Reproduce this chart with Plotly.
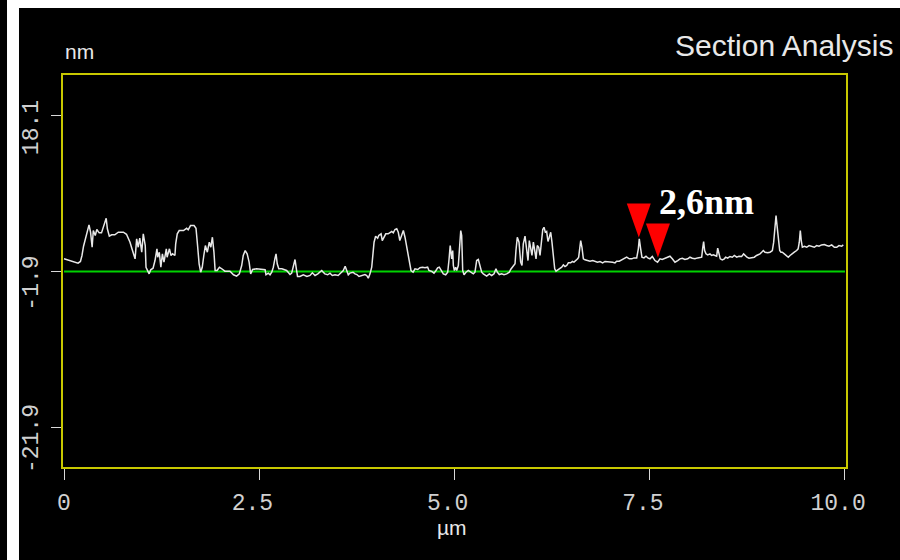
import plotly.graph_objects as go

# Section profile (µm, nm)
x_um = [0.00, 0.077, 0.141, 0.18, 0.21, 0.23, 0.25, 0.28, 0.30, 0.32, 0.34, 0.36, 0.375, 0.40, 0.42, 0.45, 0.48, 0.50,
        0.525, 0.54, 0.555, 0.58, 0.61, 0.65, 0.695, 0.76, 0.80, 0.82, 0.845, 0.87, 0.89, 0.91, 0.93, 0.95, 0.97, 0.995,
        1.015, 1.04, 1.05, 1.09, 1.11, 1.14, 1.165, 1.19, 1.20, 1.22, 1.24, 1.26, 1.28, 1.31, 1.32, 1.35, 1.37, 1.39,
        1.42, 1.43, 1.45, 1.475, 1.53, 1.57, 1.59, 1.62, 1.665, 1.69, 1.71, 1.73, 1.75, 1.77, 1.79, 1.81, 1.835, 1.86,
        1.88, 1.90, 1.92, 1.935, 1.96, 1.99, 2.02, 2.06, 2.125, 2.17, 2.21, 2.245, 2.275, 2.295, 2.32, 2.345, 2.37,
        2.39, 2.415, 2.465,
        2.575, 2.586, 2.616, 2.638, 2.66, 2.68, 2.70, 2.715, 2.73, 2.75, 2.79, 2.82, 2.85, 2.87, 2.894, 2.915, 2.936,
        2.958, 2.975, 2.99, 3.02, 3.064, 3.11, 3.15, 3.18, 3.214, 3.25, 3.28, 3.30, 3.32, 3.34, 3.376, 3.406, 3.435,
        3.47, 3.51, 3.547, 3.576, 3.60, 3.62, 3.64, 3.66, 3.70, 3.726, 3.75, 3.777, 3.81, 3.854, 3.876, 3.896, 3.918,
        3.94, 3.956, 3.97, 3.99, 4.016, 4.03, 4.06, 4.075, 4.10, 4.12, 4.15, 4.174, 4.196, 4.216, 4.238, 4.26, 4.28,
        4.30, 4.32, 4.345, 4.366, 4.39, 4.41, 4.43, 4.443, 4.47, 4.494, 4.53, 4.558, 4.59, 4.622, 4.656, 4.673, 4.71,
        4.737, 4.763, 4.784, 4.805, 4.827, 4.857, 4.887, 4.913, 4.93, 4.945, 4.964, 4.977, 4.985, 4.998,
        5.015, 5.028, 5.049, 5.062, 5.08, 5.092, 5.105, 5.122, 5.147, 5.177, 5.207, 5.241, 5.262, 5.284, 5.305, 5.318,
        5.335, 5.348, 5.369, 5.39, 5.412, 5.446, 5.476, 5.506, 5.531, 5.548, 5.574, 5.604, 5.634, 5.668, 5.702, 5.719,
        5.745, 5.775, 5.787, 5.804, 5.826, 5.847, 5.864, 5.881, 5.903, 5.924, 5.941, 5.958, 5.976, 5.992, 6.01, 6.027,
        6.044, 6.06, 6.078, 6.095, 6.112, 6.13, 6.146, 6.163, 6.18, 6.197, 6.214, 6.232, 6.248, 6.265, 6.283, 6.30,
        6.33, 6.35, 6.373, 6.394, 6.415, 6.437, 6.458, 6.488, 6.51, 6.53, 6.556, 6.577, 6.59, 6.603, 6.616, 6.632,
        6.65, 6.671, 6.70, 6.735, 6.77, 6.80, 6.83, 6.863, 6.897, 6.927, 6.957, 6.99, 7.025, 7.055, 7.076, 7.11,
        7.14, 7.17, 7.205, 7.238, 7.27, 7.298, 7.333, 7.354, 7.366, 7.384, 7.40, 7.426, 7.452, 7.48,
        7.503, 7.533, 7.567, 7.60, 7.631, 7.66, 7.695, 7.73, 7.759, 7.789, 7.823, 7.858, 7.887, 7.917, 7.951, 7.986,
        8.015, 8.045, 8.079, 8.114, 8.143, 8.165, 8.177, 8.19, 8.203, 8.22, 8.242, 8.271, 8.293, 8.314, 8.335, 8.357,
        8.37, 8.386, 8.403, 8.429, 8.455, 8.472, 8.498, 8.527, 8.557, 8.583, 8.613, 8.643, 8.677, 8.702, 8.72, 8.745,
        8.771, 8.805, 8.839, 8.868, 8.89, 8.912, 8.933, 8.954, 8.976, 9.01, 9.04, 9.07, 9.087, 9.104, 9.117, 9.13,
        9.146, 9.164, 9.18, 9.197, 9.223, 9.253, 9.274, 9.296, 9.317, 9.351, 9.381, 9.40, 9.415, 9.428, 9.44, 9.454,
        9.48, 9.51, 9.54, 9.574, 9.607, 9.637, 9.667, 9.70, 9.735, 9.765, 9.795, 9.83, 9.864, 9.894, 9.923, 9.958,
        9.978]
z_nm = [-0.27, -0.49, -0.70, -0.83, -0.61, 0.16, 1.35, 2.38, 3.37, 4.10, 3.15, 1.22, 3.37, 2.73, 3.50, 3.07, 3.07, 3.79,
        4.65, 4.95, 3.59, 2.64, 2.82, 2.82, 3.15, 3.15, 2.89, 2.51, 1.87, 1.02, 0.37, -0.27, 2.30, 1.22, 2.38, 0.58,
        2.94, 1.44, -1.35, -2.20, -1.68, -1.48, -0.49, 1.02, -0.06, 0.58, -1.35, 0.37, -0.70, 1.02, -0.06, 1.02, 0.16, 0.37,
        0.16, 1.66, 2.94, 3.37, 3.37, 3.66, 3.46, 4.01, 4.01, 3.66, 1.44, -0.91, -1.99, -1.35, 0.16, 1.44, 0.58, 1.87,
        1.22, 2.51, 0.58, -1.77, -1.77, -1.35, -1.55, -1.86, -1.86, -2.32, -2.50, -2.20, -1.13, 0.16, 0.80, 0.37, -0.70,
        -2.20, -1.64, -1.55,
        -1.68, -2.32, -2.11, -2.32, -1.99, -1.35, -0.27, 0.37, -0.91, -1.55, -1.55, -1.68, -1.77, -1.99, -2.29, -2.11, -1.35,
        -0.36, -1.55, -2.54, -2.54, -2.32, -2.54, -2.41, -2.07, -2.41, -2.20, -1.99, -1.77, -1.99, -2.20, -2.32, -2.11, -2.41,
        -2.32, -2.41, -2.11, -1.77, -1.22, -1.77, -2.32, -2.11, -1.99, -2.20, -2.29, -2.54, -2.41, -2.29, -2.41, -2.76, -2.20,
        -1.35, 0.37, 1.87, 2.64, 2.38, 2.73, 2.94, 2.08, 2.64, 2.94, 2.94, 3.07, 3.24, 3.07, 3.50, 3.59, 3.15,
        2.08, 2.73, 3.37, 2.51, 1.22, -0.06, -1.13, -1.77, -1.99, -1.55, -1.64, -1.42, -1.35, -1.42, -1.35, -1.77, -1.89,
        -2.11, -1.77, -1.42, -1.35, -1.77, -2.20, -2.32, -1.99, -0.36, 1.44, -0.27, 0.80, -1.13, -1.77,
        -1.35, -1.77, -1.13, 1.44, 3.37, 2.73, -1.77, -2.32, -1.99, -1.77, -1.99, -2.20, -1.99, -0.49, -0.36, -0.91,
        -1.55, -1.99, -2.20, -2.41, -2.50, -2.20, -2.41, -2.20, -1.55, -1.99, -2.29, -2.20, -2.32, -2.20, -1.99, -1.64,
        -1.35, -0.91, 0.80, 2.51, 1.87, -0.70, -1.13, 1.66, 2.64, 0.58, -0.49, 2.08, 1.22, 0.16, 1.87, 1.02,
        -0.27, 1.44, 1.22, 0.16, 2.30, 3.50, 3.79, 3.15, 3.24, 1.96, 2.51, 3.15, 1.87, 0.07, -1.55, -1.86,
        -1.64, -1.48, -1.35, -1.05, -1.26, -1.13, -0.79, -0.79, -0.61, -0.70, -0.49, -0.27, -0.06, 1.22, 2.08, 1.22,
        -0.27, -0.40, -0.49, -0.57, -0.49, -0.61, -0.70, -0.61, -0.79, -0.61, -0.61, -0.61, -0.70, -0.79, -0.57, -0.57,
        -0.40, -0.19, -0.06, -0.27, -0.27, -0.15, -0.15, 1.02, 2.30, 1.02, -0.06, -0.15, 0.07, -0.19,
        -0.27, 0.03, -0.49, -0.70, -0.27, -0.36, -0.19, -0.06, 0.07, -0.27, -0.70, -0.49, -0.27, -0.19, -0.36, -0.27,
        -0.06, -0.19, -0.27, -0.15, -0.06, -0.06, 1.02, 1.96, 0.80, 0.37, 0.24, 0.37, 0.16, 0.24, 0.16, 0.07,
        1.11, 0.58, -0.27, -0.40, -0.27, -0.06, -0.19, 0.03, -0.06, 0.16, -0.06, 0.07, 0.03, 0.37, 0.16, -0.06,
        -0.19, -0.15, -0.06, 0.16, 0.24, 0.37, 0.58, 0.80, 0.58, 0.50, 0.58, 0.80, 1.87, 4.01, 5.30, 4.01,
        2.30, 0.80, 0.58, 0.58, 0.37, 0.16, -0.06, 0.16, 0.37, 0.58, 0.80, 1.02, 1.87, 3.37, 2.08, 1.22,
        1.35, 1.22, 1.44, 1.35, 1.22, 1.44, 1.35, 1.52, 1.57, 1.44, 1.35, 1.52, 1.22, 1.22, 1.44, 1.35,
        1.52]

# Reference (baseline) line
baseline_x = [0.0, 10.0]
baseline_z = [-1.9, -1.9]

# Cursor markers (tip positions)
cursor_x = [7.36, 7.605]
cursor_z = [2.47, -0.10]
cursor_label = "2,6nm"

NB = "\u00a0"
x_ticks = [0, 2.5, 5.0, 7.5, 10.0]
x_tick_text = ["0", "2.5" + NB, "5.0" + NB, "7.5" + NB, "10.0" + NB]
y_ticks = [-21.9, -1.9, 18.1]
y_tick_text = ["-21.9", "-1.9", "18.1"]

fig = go.Figure()
fig.add_trace(go.Scatter(x=baseline_x, y=baseline_z, mode="lines",
                         line=dict(color="#00d200", width=2), hoverinfo="skip"))
fig.add_trace(go.Scatter(x=x_um, y=z_nm, mode="lines",
                         line=dict(color="#e8e8e8", width=1.5), hoverinfo="skip"))

shapes = []
# white frame strips at left and top of the picture
shapes.append(dict(type="rect", xref="paper", yref="paper", x0=-0.0715, x1=-0.0562, y0=-0.24, y1=1.2,
                   fillcolor="white", line=dict(width=0), layer="above"))
shapes.append(dict(type="rect", xref="paper", yref="paper", x0=-0.0715, x1=1.1, y0=1.171, y1=1.2,
                   fillcolor="white", line=dict(width=0), layer="above"))
for cx, cz in zip(cursor_x, cursor_z):
    shapes.append(dict(type="path", xref="x", yref="y", xsizemode="pixel", ysizemode="pixel",
                       xanchor=cx, yanchor=cz, path="M -12,34 L 12,34 L 0,0 Z",
                       fillcolor="#ff0000", line=dict(width=0), layer="above"))

label_font = dict(family="Liberation Sans, Arial, sans-serif", color="#e8e8e8")
annotations = [
    dict(text="Section Analysis", xref="paper", yref="paper", x=1.062, y=1.0765, xanchor="right",
         yanchor="middle", showarrow=False, font=dict(size=30, **label_font)),
    dict(text="nm", xref="paper", yref="paper", x=0.0217, y=1.061, xanchor="center",
         yanchor="middle", showarrow=False, font=dict(size=21, **label_font)),
    dict(text="µm", xref="paper", yref="paper", x=0.497, y=-0.155, xanchor="center",
         yanchor="middle", showarrow=False, font=dict(size=21, **label_font)),
    dict(text="<b>" + cursor_label + "</b>", xref="x", yref="y", x=8.23, y=7.0, xanchor="center",
         yanchor="middle", showarrow=False,
         font=dict(size=36, family="Liberation Serif, Times New Roman, serif", color="white")),
]

tick_font = dict(family="Liberation Mono, Courier New, monospace", size=23, color="#d0d0d0")
fig.update_layout(
    width=900, height=560,
    margin=dict(l=63, r=54, t=75, b=93),
    paper_bgcolor="black", plot_bgcolor="black",
    showlegend=False,
    shapes=shapes, annotations=annotations,
    xaxis=dict(range=[-0.013, 10.013], tickvals=x_ticks, ticktext=x_tick_text, showgrid=False,
               zeroline=False, showline=True, linecolor="#c8c800", linewidth=2, mirror=True,
               ticks="outside", ticklen=11, tickwidth=1, tickcolor="#d8d8d8", tickfont=tick_font,
               ticklabelstandoff=2, fixedrange=True),
    yaxis=dict(range=[-27.04, 23.37], tickvals=y_ticks, ticktext=y_tick_text, showgrid=False,
               zeroline=False, showline=True, linecolor="#c8c800", linewidth=2, mirror=True,
               ticks="outside", ticklen=10, tickwidth=1, tickcolor="#d8d8d8", tickfont=tick_font,
               tickangle=-90, ticklabelstandoff=4, ticklabelshift=15, fixedrange=True),
)

fig.write_html("out.html", config={"displayModeBar": False},
               post_script="document.body.style.margin='0px';document.body.style.background='black';")
